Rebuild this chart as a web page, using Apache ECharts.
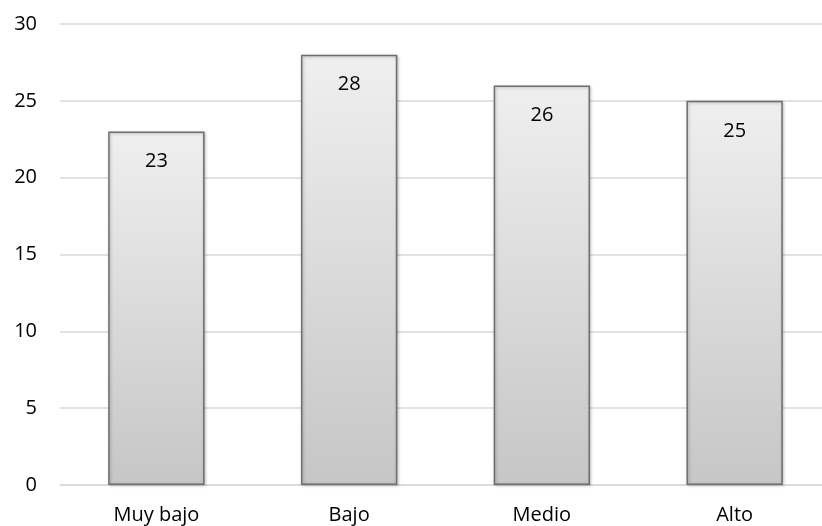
<!DOCTYPE html>
<html><head><meta charset="utf-8">
<script src="https://cdn.jsdelivr.net/npm/echarts@6/dist/echarts.min.js"></script>
<style>html,body{margin:0;padding:0;background:#fff;overflow:hidden}#c{width:831px;height:526px}</style>
</head><body><div id="c"></div>
<script>
var categories = ['Muy bajo', 'Bajo', 'Medio', 'Alto'];
var values = [23, 28, 26, 25];
var yTicks = [0, 5, 10, 15, 20, 25, 30];

var FONT = 'Open Sans, Liberation Sans, sans-serif';
var chart = echarts.init(document.getElementById('c'));
chart.setOption({
  animation: false,
  grid: { left: 60, right: 0, top: 24, bottom: 41, containLabel: false },
  xAxis: {
    type: 'category', data: categories,
    axisLine: { show: true, lineStyle: { color: '#d9d9d9', width: 1.5 } },
    axisTick: { show: false },
    axisLabel: { color: '#000', fontSize: 20, fontFamily: FONT, margin: 20 }
  },
  yAxis: {
    type: 'value', min: 0, max: 30, interval: 5,
    axisLine: { show: false }, axisTick: { show: false },
    splitLine: { lineStyle: { color: '#d9d9d9', width: 1.5 } },
    axisLabel: { color: '#000', fontSize: 20, fontFamily: FONT, margin: 23,
      formatter: function (v) { return yTicks.indexOf(v) >= 0 ? String(v) : ''; } }
  },
  series: [{
    type: 'bar', data: values, barWidth: '50%',
    itemStyle: {
      color: new echarts.graphic.LinearGradient(0, 0, 0, 1, [
        { offset: 0, color: '#efefef' }, { offset: 1, color: '#c6c6c6' }
      ]),
      borderColor: '#6e6e6e', borderWidth: 1.5,
      shadowColor: 'rgba(0,0,0,0.25)', shadowBlur: 3, shadowOffsetX: 1, shadowOffsetY: 1
    },
    label: { show: true, position: 'insideTop', distance: 20, color: '#000', fontSize: 20,
      fontFamily: FONT }
  }]
});
</script></body></html>
